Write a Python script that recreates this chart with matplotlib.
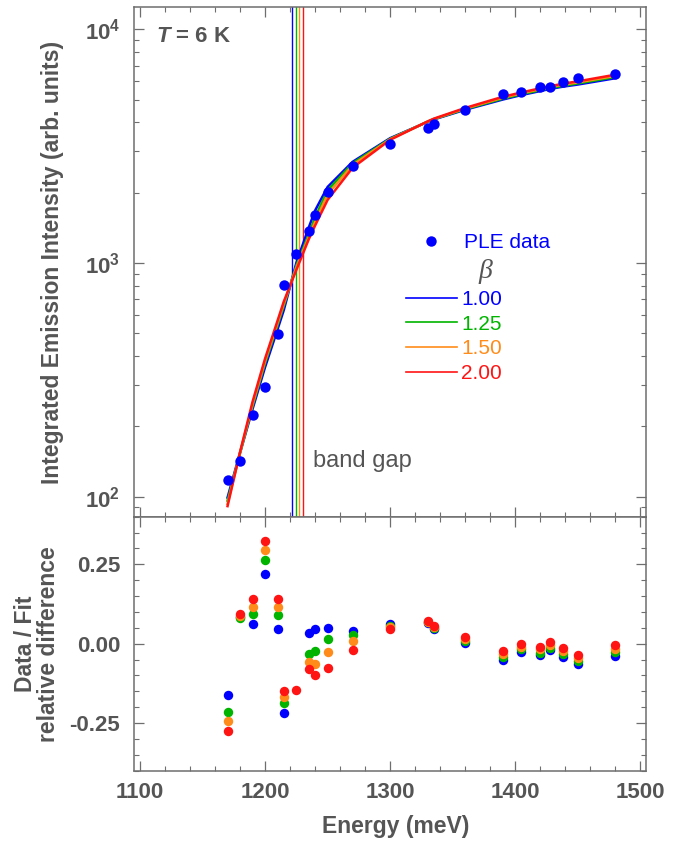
import matplotlib
matplotlib.use('Agg')
import matplotlib.pyplot as plt
import numpy as np
from matplotlib.lines import Line2D
from matplotlib.ticker import FixedLocator, LogLocator, NullFormatter, MultipleLocator

plt.rcParams['font.family'] = ['Liberation Sans', 'DejaVu Sans']
plt.rcParams['mathtext.fontset'] = 'custom'
plt.rcParams['mathtext.rm'] = 'Liberation Sans'
plt.rcParams['mathtext.bf'] = 'Liberation Sans:bold'
plt.rcParams['mathtext.it'] = 'Liberation Sans:italic:bold'
plt.rcParams['mathtext.default'] = 'bf'
plt.rcParams['axes.unicode_minus'] = False

# ---------------- data ----------------
energy = [1170, 1180, 1190, 1200, 1210, 1215, 1225, 1235, 1240, 1250, 1270,
          1300, 1330, 1335, 1360, 1390, 1405, 1420, 1428, 1438, 1450, 1480]
ple = [118, 142, 223, 294, 497, 805, 1091, 1373, 1602, 2016, 2605,
       3217, 3767, 3930, 4512, 5267, 5372, 5644, 5678, 5929, 6204, 6418]

fit_100 = [99, 154, 237, 358, 520, 629, 1000, 1421, 1676, 2115, 2709,
           3420, 4016, 4115, 4526, 5004, 5232, 5441, 5559, 5680, 5801, 6174]
fit_125 = [96, 153.6, 243.7, 371.9, 541.7, 655.3, 975, 1329, 1567, 2044, 2673,
           3400, 4023, 4127, 4553, 5046, 5275, 5486, 5604, 5727, 5863, 6245]
fit_150 = [93, 154.4, 248.6, 380.4, 554.2, 669.8, 955, 1293, 1498, 1964, 2626,
           3384, 4027, 4134, 4580, 5093, 5324, 5542, 5655, 5793, 5925, 6315]
fit_200 = [91, 155.1, 254.7, 389.6, 566.6, 684.3, 933, 1265, 1445, 1861, 2555,
           3365, 4034, 4146, 4607, 5141, 5367, 5593, 5701, 5852, 5987, 6392]

res_100 = [-0.162, 0.085, 0.062, 0.218, 0.046, -0.219, np.nan, 0.035, 0.046, 0.049, 0.040,
           0.063, 0.066, 0.047, 0.003, -0.050, -0.026, -0.036, -0.021, -0.042, -0.065, -0.038]
res_125 = [-0.216, 0.082, 0.093, 0.265, 0.090, -0.186, np.nan, -0.032, -0.022, 0.014, 0.026,
           0.057, 0.068, 0.050, 0.009, -0.042, -0.018, -0.028, -0.013, -0.034, -0.055, -0.027]
res_150 = [-0.244, 0.087, 0.115, 0.294, 0.115, -0.168, np.nan, -0.058, -0.065, -0.026, 0.008,
           0.052, 0.069, 0.052, 0.015, -0.033, -0.009, -0.018, -0.004, -0.023, -0.045, -0.016]
res_200 = [-0.274, 0.092, 0.142, 0.325, 0.140, -0.150, -0.145, -0.079, -0.098, -0.077, -0.019,
           0.046, 0.071, 0.055, 0.021, -0.024, -0.001, -0.009, 0.004, -0.013, -0.035, -0.004]

beta_labels = ['1.00', '1.25', '1.50', '2.00']
band_gap = [1221.2, 1224.6, 1227.2, 1230.2]
fits = [fit_100, fit_125, fit_150, fit_200]
residuals = [res_100, res_125, res_150, res_200]

colors = ['#0000ff', '#00b400', '#ff8c1a', '#ff1414']
data_color = '#0000ff'
gray = '#555555'
spine_gray = '#6e6e6e'

# ---------------- figure ----------------
W, H = 689, 842
fig = plt.figure(figsize=(W / 100, H / 100), dpi=100)
L, R = 134, 646
T1, B1, B2 = 7, 516.7, 770.7
ax1 = fig.add_axes([L / W, 1 - B1 / H, (R - L) / W, (B1 - T1) / H])
ax2 = fig.add_axes([L / W, 1 - B2 / H, (R - L) / W, (B2 - B1) / H])

for ax in (ax1, ax2):
    for sp in ax.spines.values():
        sp.set_color(spine_gray)
        sp.set_linewidth(1.1)
    ax.tick_params(which='both', direction='in', top=True, right=True,
                   color=spine_gray, labelcolor=gray, labelsize=16)
    ax.tick_params(which='major', length=7.2, width=0.9)
    ax.tick_params(which='minor', length=3.6, width=0.8)
    ax.set_xlim(1095.2, 1504.6)
    ax.xaxis.set_major_locator(MultipleLocator(100))
    ax.xaxis.set_minor_locator(MultipleLocator(20))

# ---- top panel ----
ax1.set_yscale('log')
ax1.set_ylim(82, 12460)
for bg, c in zip(band_gap, colors):
    ax1.axvline(bg, color=c, lw=1.0, zorder=1.5)
for f, c in zip(fits, colors):
    ax1.plot(energy, f, color=c, lw=1.8, zorder=2)
ax1.plot(energy, ple, 'o', color=data_color, ms=7.5, mec='none', zorder=5)

ax1.yaxis.set_major_locator(FixedLocator([100, 1000, 10000]))
ax1.set_yticklabels([r'$10^{2}$', r'$10^{3}$', r'$10^{4}$'])
ax1.yaxis.set_minor_locator(LogLocator(base=10, subs=np.arange(2, 10)))
ax1.yaxis.set_minor_formatter(NullFormatter())
ax1.tick_params(axis='x', labelbottom=False)
ax1.tick_params(axis='y', pad=10)

ax1.set_ylabel('Integrated Emission Intensity (arb. units)', fontsize=16.5,
               fontweight='bold', color=gray)
ax1.yaxis.set_label_coords((64 - L) / (R - L), (B1 - 262) / (B1 - T1))

ax1.text(156 / W, 1 - 42.3 / H, r'$\mathit{T}$ = 6 K', transform=fig.transFigure,
         fontsize=16, fontweight='bold', color=gray, va='baseline', ha='left')
ax1.text(312.7 / W, 1 - 467.3 / H, 'band gap', transform=fig.transFigure,
         fontsize=17, color=gray, va='baseline', ha='left')

# legends
h_data = [Line2D([], [], ls='none', marker='o', ms=7.5, color=data_color, mec='none')]
leg1 = ax1.legend(h_data, ['PLE data'], loc='upper left',
                  bbox_to_anchor=(405.7 / W, 1 - 233.5 / H), bbox_transform=fig.transFigure,
                  frameon=False, fontsize=15, handlelength=2.45, handletextpad=0.35,
                  borderpad=0, borderaxespad=0, labelcolor=[data_color])
ax1.add_artist(leg1)
h_lines = [Line2D([], [], color=c, lw=1.2) for c in colors]
ax1.legend(h_lines, beta_labels, loc='upper left',
           bbox_to_anchor=(405.7 / W, 1 - 290 / H), bbox_transform=fig.transFigure,
           frameon=False, fontsize=15, handlelength=2.45, handletextpad=0.2,
           borderpad=0, borderaxespad=0, labelspacing=0.27, labelcolor=colors)
ax1.text(485.7 / W, 1 - 271.7 / H, 'β', transform=fig.transFigure,
         family=['Liberation Serif', 'DejaVu Serif'], style='italic',
         fontsize=20, color=gray, ha='center', va='center')

# ---- bottom panel ----
for r, c in zip(residuals, colors):
    ax2.plot(energy, r, 'o', color=c, ms=6.8, mec='none', zorder=3)
ax2.set_ylim(-0.4, 0.4)
ax2.yaxis.set_major_locator(FixedLocator([-0.25, 0.0, 0.25]))
ax2.set_yticklabels(['-0.25', '0.00', '0.25'])
ax2.yaxis.set_minor_locator(MultipleLocator(0.05))
ax2.tick_params(axis='y', pad=10)
ax2.tick_params(axis='x', pad=8)
ax2.set_xticks([1100, 1200, 1300, 1400, 1500])
ax2.set_xticklabels(['1100', '1200', '1300', '1400', '1500'])
for lab in ax2.get_xticklabels() + ax2.get_yticklabels():
    lab.set_fontweight('bold')

ax2.set_ylabel('Data / Fit\nrelative difference', fontsize=16.5, fontweight='bold',
               color=gray, linespacing=1.0)
ax2.yaxis.set_label_coords((60 - L) / (R - L), 0.5)
ax2.set_xlabel('Energy (meV)', fontsize=16.5, fontweight='bold', color=gray)
ax2.xaxis.set_label_coords((395.5 - L) / (R - L), -(815 - B2) / (B2 - B1))

fig.savefig('out.png', dpi=100)
